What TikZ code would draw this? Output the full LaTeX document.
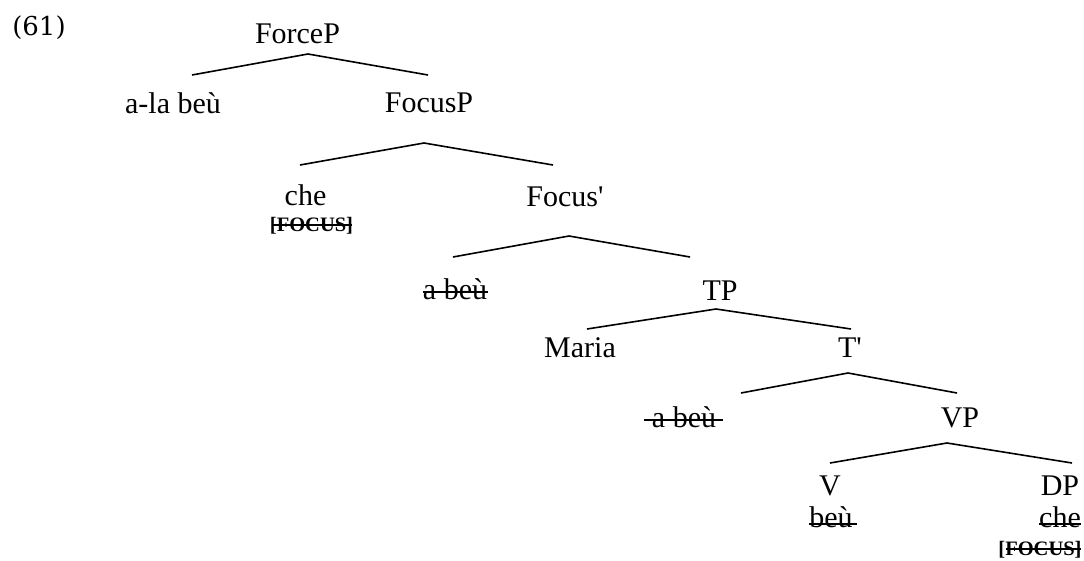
\documentclass[tikz,border=0pt]{standalone}
\usepackage{fontspec}
\setmainfont{Liberation Serif}
\newfontfamily\exnumfont{DejaVu Serif}
\usetikzlibrary{calc}
\begin{document}
\begin{tikzpicture}[x=1pt,y=-1pt,
  lbl/.style={anchor=base,inner sep=0pt,font=\fontsize{30}{36}\selectfont},
  feat/.style={anchor=base,inner sep=0pt,font=\fontsize{20.5}{24}\selectfont\bfseries},
  exnum/.style={anchor=base,inner sep=0pt,font=\exnumfont\fontsize{26}{30}\selectfont},
  branch/.style={line width=1.6pt},
  strikeout/.style={line width=1.5pt}]
\useasboundingbox (0,0) rectangle (1084,560);

% example number
\node[exnum] (ex) at (39,35) {(61)};

% tree labels
\node[lbl] (forceP) at (297.5,43) {ForceP};
\node[lbl] (alabeu) at (173,113) {a-la beù};
\node[lbl] (focusP) at (429,112) {FocusP};
\node[lbl] (cheA)   at (305.5,205) {che};
\node[feat] (focA)  at (311.5,231) {[FOCUS]};
\node[lbl] (focbar) at (565,206) {Focus\textquotesingle};
\node[lbl] (abeuA)  at (455,299) {a beù};
\node[lbl] (tp)     at (720,300) {TP};
\node[lbl] (maria)  at (580,357) {Maria};
\node[lbl] (tbar)   at (850,357) {T\textquotesingle};
\node[lbl] (abeuB)  at (684,427) {a beù};
\node[lbl] (vp)     at (960,427) {VP};
\node[lbl] (v)      at (830,495) {V};
\node[lbl] (dp)     at (1060,495) {DP};
\node[lbl] (beu)    at (831,527) {beù};
\node[lbl] (cheB)   at (1060,527) {che};
\node[feat] (focB)  at (1040,555) {[FOCUS]};

% branches
\draw[branch] ($(alabeu.base)+(19,-38)$) -- ($(forceP.base)+(10.5,11)$) -- ($(focusP.base)+(-1,-37)$);
\draw[branch] ($(cheA.base)+(-5.5,-40)$) -- ($(focusP.base)+(-5,31)$) -- ($(focbar.base)+(-12,-41)$);
\draw[branch] ($(abeuA.base)+(-2,-42)$) -- ($(focbar.base)+(4,30)$) -- ($(tp.base)+(-30,-43)$);
\draw[branch] ($(maria.base)+(7,-28)$) -- ($(tp.base)+(-4,9)$) -- ($(tbar.base)+(1,-28)$);
\draw[branch] ($(abeuB.base)+(57,-34)$) -- ($(tbar.base)+(-2,16)$) -- ($(vp.base)+(-3,-34)$);
\draw[branch] ($(v.base)+(0,-32)$) -- ($(vp.base)+(-13,16)$) -- ($(dp.base)+(12,-32)$);

% struck-out copies
\draw[strikeout] ($(abeuA.base west)+(0,-7)$) -- ($(abeuA.base east)+(1,-7)$);
\draw[strikeout] ($(abeuB.base west)+(-8,-7)$) -- ($(abeuB.base east)+(7,-7)$);
\draw[strikeout] ($(beu.base west)+(0,-3)$) -- ($(beu.base east)+(4,-3)$);
\draw[strikeout] ($(cheB.base west)+(0,-3)$) -- ($(cheB.base east)+(0,-3)$);
\draw[strikeout] ($(focA.base west)+(2,-6)$) -- ($(focA.base east)+(-1,-6)$);
\draw[strikeout] ($(focB.base west)+(8,-6)$) -- ($(focB.base east)+(-1,-6)$);
\end{tikzpicture}
\end{document}
